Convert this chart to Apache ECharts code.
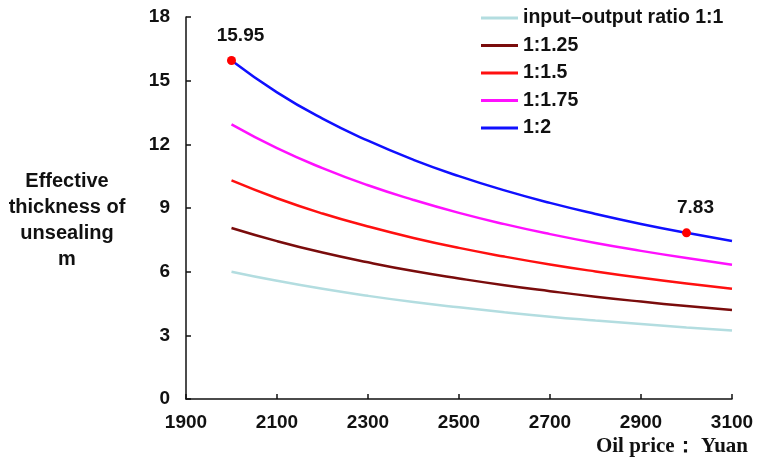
<!DOCTYPE html>
<html>
<head>
<meta charset="utf-8">
<script src="https://cdn.jsdelivr.net/npm/echarts@6/dist/echarts.min.js"></script>
<style>
  html, body { margin: 0; padding: 0; background: #fff; }
  #chart { width: 772px; height: 460px; }
</style>
</head>
<body>
<div id="chart"></div>
<script>
// oil price (Yuan)
var prices = [2000, 2100, 2200, 2300, 2400, 2500, 2600, 2700, 2800, 2900, 3000, 3100];
// effective thickness of unsealing (m)
var ratio1 = [6.00, 5.57, 5.19, 4.86, 4.57, 4.32, 4.09, 3.88, 3.70, 3.53, 3.37, 3.23];
var ratio125 = [8.06, 7.44, 6.90, 6.44, 6.03, 5.68, 5.36, 5.08, 4.82, 4.59, 4.38, 4.19];
var ratio15 = [10.30, 9.46, 8.74, 8.13, 7.59, 7.12, 6.71, 6.34, 6.01, 5.71, 5.44, 5.20];
var ratio175 = [12.94, 11.82, 10.88, 10.07, 9.38, 8.77, 8.24, 7.77, 7.35, 6.98, 6.64, 6.33];
var ratio2 = [15.95, 14.45, 13.21, 12.17, 11.27, 10.50, 9.83, 9.24, 8.72, 8.25, 7.83, 7.45];
var names = ['input\u2013output ratio 1:1', '1:1.25', '1:1.5', '1:1.75', '1:2'];
var colors = ['#B3DDE0', '#7A0C0C', '#FF1010', '#FF10FF', '#1010FF'];
// highlighted points on the 1:2 curve
var markX = [2000, 3000];
var markY = [15.95, 7.83];

var font = "'Liberation Sans', Arial, sans-serif";

function pairs(ys) {
  return prices.map(function (p, i) { return [p, ys[i]]; });
}

var allY = [ratio1, ratio125, ratio15, ratio175, ratio2];
var series = allY.map(function (ys, i) {
  return {
    name: names[i],
    type: 'line',
    smooth: true,
    showSymbol: false,
    symbol: 'none',
    lineStyle: { color: colors[i], width: 2.5 },
    itemStyle: { color: colors[i] },
    data: pairs(ys),
    z: 2 + i
  };
});
series.push({
  name: 'marks',
  type: 'scatter',
  symbolSize: 9,
  itemStyle: { color: '#FF0000', opacity: 1 },
  label: {
    show: true,
    position: 'top',
    distance: 11,
    offset: [9, 0],
    color: '#111',
    opacity: 1,
    fontFamily: font,
    fontWeight: 'bold',
    fontSize: 19,
    formatter: function (p) { return p.value[1].toFixed(2); }
  },
  data: markX.map(function (x, i) { return [x, markY[i]]; }),
  z: 10
});

var chart = echarts.init(document.getElementById('chart'));
chart.setOption({
  backgroundColor: '#fff',
  animation: false,
  grid: { left: 186, right: 40, top: 17, bottom: 61, containLabel: false },
  legend: {
    data: names,
    orient: 'vertical',
    left: 476,
    top: 3,
    icon: 'rect',
    itemWidth: 37,
    itemHeight: 3,
    itemGap: 7.5,
    textStyle: { fontFamily: font, fontWeight: 'bold', fontSize: 19.5, color: '#111' }
  },
  xAxis: {
    type: 'value',
    min: 1900,
    max: 3100,
    interval: 200,
    splitLine: { show: false },
    axisLine: { lineStyle: { color: '#111', width: 1.5 } },
    axisTick: { inside: true, length: 5, lineStyle: { color: '#111', width: 1.5 } },
    axisLabel: {
      margin: 14, color: '#111', fontFamily: font, fontWeight: 'bold', fontSize: 19,
      formatter: function (v) { return String(v); }
    }
  },
  yAxis: {
    type: 'value',
    min: 0,
    max: 18,
    interval: 3,
    splitLine: { show: false },
    axisLine: { show: true, lineStyle: { color: '#111', width: 1.5 } },
    axisTick: { show: true, inside: true, length: 5, lineStyle: { color: '#111', width: 1.5 } },
    axisLabel: { margin: 16, color: '#111', fontFamily: font, fontWeight: 'bold', fontSize: 19 }
  },
  graphic: [
    {
      type: 'text',
      x: 67, y: 220,
      style: {
        text: 'Effective\nthickness of\nunsealing\nm',
        align: 'center',
        verticalAlign: 'middle',
        lineHeight: 26,
        fill: '#111',
        font: "bold 20px 'Liberation Sans', Arial, sans-serif"
      }
    },
    {
      type: 'text',
      right: 24, top: 436,
      style: {
        text: 'Oil price\uff1a Yuan',
        fill: '#111',
        font: "bold 21px 'Liberation Serif', 'Times New Roman', serif"
      }
    }
  ],
  series: series
});
</script>
</body>
</html>
